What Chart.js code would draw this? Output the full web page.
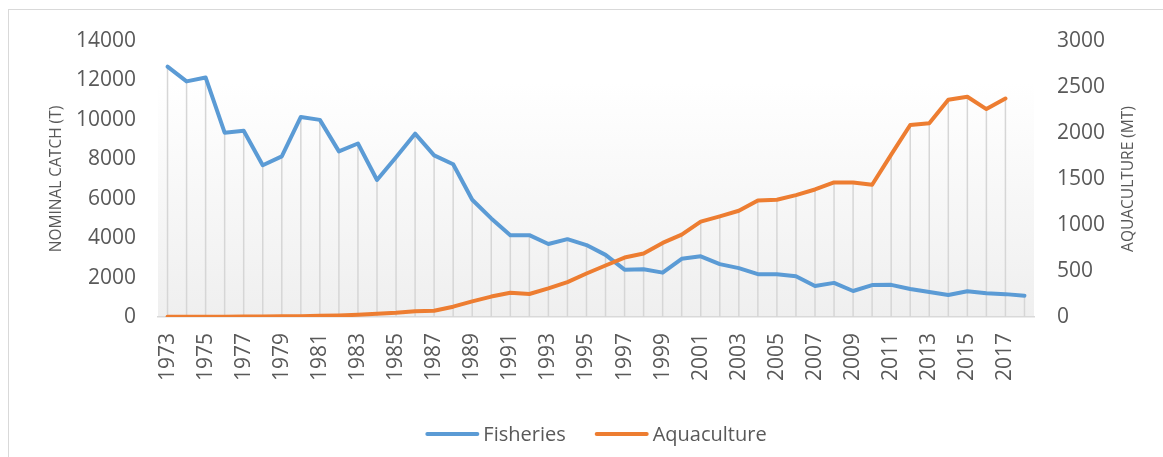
<!DOCTYPE html>
<html>
<head>
<meta charset="utf-8">
<script src="https://cdn.jsdelivr.net/npm/chart.js@4/dist/chart.umd.min.js"></script>
<style>
  html, body { margin: 0; padding: 0; background: #fff; overflow: hidden; }
  #wrap { position: relative; width: 1163px; height: 457px; }
  #frame { position: absolute; left: 8px; top: 9px; width: 1200px; height: 500px;
           border: 1.5px solid #d9d9d9; box-sizing: border-box; }
  #chart { position: absolute; left: 0; top: 0; }
</style>
</head>
<body>
<div id="wrap">
  <div id="frame"></div>
  <canvas id="chart" width="1163" height="457"></canvas>
</div>
<script>
// years on the category axis
const years = [
  1973, 1974, 1975, 1976, 1977, 1978, 1979, 1980, 1981, 1982,
  1983, 1984, 1985, 1986, 1987, 1988, 1989, 1990, 1991, 1992,
  1993, 1994, 1995, 1996, 1997, 1998, 1999, 2000, 2001, 2002,
  2003, 2004, 2005, 2006, 2007, 2008, 2009, 2010, 2011, 2012,
  2013, 2014, 2015, 2016, 2017, 2018
];

// nominal catch (T), left axis
const fisheries = [
  12700, 11950, 12150, 9350, 9450, 7700, 8150, 10150, 10000, 8400,
  8800, 6950, 8100, 9300, 8200, 7750, 5950, 5000, 4150, 4150,
  3700, 3950, 3650, 3150, 2400, 2420, 2250, 2950, 3080, 2680,
  2480, 2170, 2170, 2070, 1570, 1730, 1320, 1620, 1630, 1420,
  1270, 1120, 1310, 1200, 1160, 1080
];

// aquaculture (MT), right axis - no value for 2018
const aquaculture = [
  2, 3, 3, 4, 5, 6, 7, 9, 13, 17,
  24, 35, 46, 63, 68, 112, 170, 222, 264, 250,
  311, 379, 473, 560, 646, 690, 805, 895, 1036, 1094,
  1155, 1267, 1275, 1325, 1386, 1462, 1462, 1437, 1765, 2087,
  2105, 2361, 2394, 2260, 2375, null
];

const leftTitle = 'NOMINAL CATCH (T)';
const rightTitle = 'AQUACULTURE (MT)';

const textColor = '#595959';
const fontFamily = '"Open Sans", "Liberation Sans", sans-serif';

// plot area fill, light gradient from white to grey
const plotBackground = {
  id: 'plotBackground',
  beforeDraw (chart) {
    const {ctx, chartArea: a} = chart;
    const g = ctx.createLinearGradient(0, a.top, 0, a.bottom);
    g.addColorStop(0, '#ffffff');
    g.addColorStop(0.15, '#ffffff');
    g.addColorStop(1, '#efefef');
    ctx.save();
    ctx.fillStyle = g;
    ctx.fillRect(a.left, a.top, a.right - a.left, a.bottom - a.top);
    ctx.restore();
  }
};

// drop lines: from the highest series point down to the axis
const dropLines = {
  id: 'dropLines',
  beforeDatasetsDraw (chart) {
    const {ctx, chartArea: a, scales} = chart;
    ctx.save();
    ctx.strokeStyle = '#d6d6d6';
    ctx.lineWidth = 1.5;
    years.forEach((yr, i) => {
      const x = scales.x.getPixelForValue(i);
      let top = scales.y.getPixelForValue(fisheries[i]);
      if (aquaculture[i] != null) {
        top = Math.min(top, scales.y2.getPixelForValue(aquaculture[i]));
      }
      ctx.beginPath();
      ctx.moveTo(x, top);
      ctx.lineTo(x, a.bottom);
      ctx.stroke();
    });
    ctx.restore();
  }
};

// right axis title reads bottom-to-top, plus the line legend
const extras = {
  id: 'extras',
  afterDraw (chart) {
    const {ctx, chartArea: a} = chart;
    ctx.save();
    ctx.fillStyle = textColor;
    ctx.font = '15.5px ' + fontFamily;
    ctx.textAlign = 'center';
    ctx.textBaseline = 'middle';
    ctx.translate(1129, (a.top + a.bottom) / 2);
    ctx.rotate(-Math.PI / 2);
    ctx.fillText(rightTitle, 0, 0);
    ctx.restore();

    // legend
    ctx.save();
    ctx.font = '20px ' + fontFamily;
    ctx.textBaseline = 'middle';
    ctx.textAlign = 'left';
    const lineW = 54, gap = 4, itemGap = 29, y = 434;
    const items = chart.data.datasets.map(ds => ({
      label: ds.label, color: ds.borderColor, w: ctx.measureText(ds.label).width
    }));
    let total = 0;
    items.forEach((it, i) => { total += lineW + gap + it.w + (i ? itemGap : 0); });
    let x = (a.left + a.right) / 2 - total / 2;
    items.forEach(it => {
      ctx.strokeStyle = it.color;
      ctx.lineWidth = 4;
      ctx.lineCap = 'round';
      ctx.beginPath();
      ctx.moveTo(x + 2, y);
      ctx.lineTo(x + lineW - 2, y);
      ctx.stroke();
      ctx.fillStyle = textColor;
      ctx.fillText(it.label, x + lineW + gap, y + 1);
      x += lineW + gap + it.w + itemGap;
    });
    ctx.restore();
  }
};

const ctx = document.getElementById('chart').getContext('2d');

new Chart(ctx, {
  type: 'line',
  data: {
    labels: years,
    datasets: [
      {
        label: 'Fisheries',
        data: fisheries,
        yAxisID: 'y',
        borderColor: '#5b9bd5',
        backgroundColor: '#5b9bd5',
        borderWidth: 4,
        pointRadius: 0,
        tension: 0,
        borderCapStyle: 'round',
        borderJoinStyle: 'round',
        order: 1
      },
      {
        label: 'Aquaculture',
        data: aquaculture,
        yAxisID: 'y2',
        borderColor: '#ed7d31',
        backgroundColor: '#ed7d31',
        borderWidth: 4,
        pointRadius: 0,
        tension: 0,
        borderCapStyle: 'round',
        borderJoinStyle: 'round',
        order: 0
      }
    ]
  },
  options: {
    responsive: false,
    animation: false,
    layout: { padding: { top: 41, left: 0, right: 0, bottom: 0 } },
    plugins: {
      legend: { display: false },
      tooltip: { enabled: false }
    },
    scales: {
      x: {
        type: 'category',
        offset: true,
        grid: { display: false, drawTicks: false },
        border: { display: true, color: '#d9d9d9', width: 1.5 },
        ticks: {
          autoSkip: false,
          maxRotation: 90,
          minRotation: 90,
          padding: 16,
          color: textColor,
          font: { family: fontFamily, size: 21 },
          callback: (v, i) => (i % 2 === 0 ? String(years[i]) : '')
        },
        afterFit: (s) => { s.height = 140; }
      },
      y: {
        position: 'left',
        min: 0,
        max: 14000,
        grid: { display: false, drawTicks: false },
        border: { display: false },
        ticks: {
          stepSize: 2000,
          padding: 22,
          color: textColor,
          font: { family: fontFamily, size: 21 },
          callback: (v) => String(v)
        },
        title: {
          display: true,
          text: leftTitle,
          color: textColor,
          font: { family: fontFamily, size: 15.5 },
          padding: { top: 47, bottom: 0 }
        },
        afterFit: (s) => { s.width = 158; }
      },
      y2: {
        position: 'right',
        min: 0,
        max: 3000,
        grid: { display: false, drawTicks: false },
        border: { display: false },
        ticks: {
          stepSize: 500,
          padding: 23,
          color: textColor,
          font: { family: fontFamily, size: 21 },
          callback: (v) => String(v)
        },
        afterFit: (s) => { s.width = 129; }
      }
    }
  },
  plugins: [plotBackground, dropLines, extras]
});
</script>
</body>
</html>
